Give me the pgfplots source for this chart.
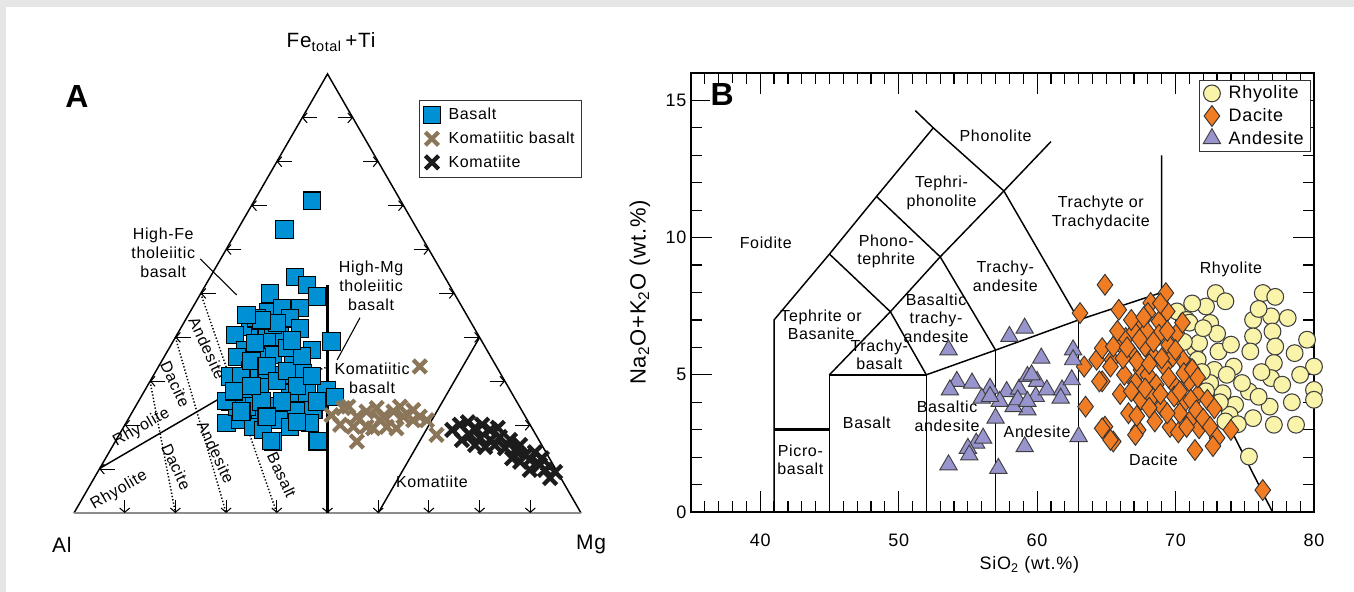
\documentclass[border=0pt]{standalone}
\usepackage{fontspec}
\setmainfont{Liberation Sans}[LetterSpace=4]
\usepackage{pgfplots}
\pgfplotsset{compat=1.18}
\usetikzlibrary{arrows.meta}
\definecolor{bg}{RGB}{230,230,230}
\definecolor{basaltblue}{RGB}{0,145,212}
\definecolor{kombas}{RGB}{140,118,90}
\definecolor{komat}{RGB}{28,28,28}
\definecolor{rhyo}{RGB}{250,244,170}
\definecolor{dac}{RGB}{240,125,35}
\definecolor{andes}{RGB}{152,148,205}
\newcommand{\lbl}{\fontsize{12}{14}\selectfont}
\newcommand{\tkf}{\fontsize{13.5}{15}\selectfont}
\begin{document}
\begin{tikzpicture}
\fill[bg] (0,0) rectangle (1015.5pt,444pt);
\fill[white] (4.5pt,0) rectangle (1015.5pt,438.75pt);
% ---------------- Panel A : ternary (Cartesian, side = 100) ----------------
\begin{axis}[at={(55.5pt,59.25pt)}, anchor=south west, x=3.8025pt, y=3.8025pt,
  xmin=0, xmax=100, ymin=0, ymax=86.6025, axis lines=none, clip=false,
  legend style={at={(axis description cs:0.68,0.941)}, anchor=north west,
    draw=black!80, line width=0.8pt, font=\lbl, row sep=3.5pt, inner xsep=3pt, inner ysep=4pt,
    /tikz/every odd column/.append style={column sep=4pt}},
  legend cell align=left]
% triangle
\addplot[forget plot, black, line width=1.1pt] coordinates {(0,0) (50,86.6025) (100,0)};
\addplot[forget plot, black!45, line width=2pt] coordinates {(0,0) (100,0)};
% ticks
\addplot[forget plot, black, line width=0.8pt, quiver={u=\thisrow{u},v=\thisrow{v}},
  -{Straight Barb[length=3.2pt,width=7.5pt]}] table {
x y u v
8 8.66 -3 0
13 17.32 -3 0
18 25.98 -3 0
23 34.64 -3 0
28 43.30 -3 0
33 51.96 -3 0
38 60.62 -3 0
43 69.28 -3 0
48 77.94 -3 0
92 8.66 3 0
87 17.32 3 0
82 25.98 3 0
77 34.64 3 0
72 43.30 3 0
67 51.96 3 0
62 60.62 3 0
57 69.28 3 0
52 77.94 3 0
10 2.5 0 -2.5
20 2.5 0 -2.5
30 2.5 0 -2.5
40 2.5 0 -2.5
50 2.5 0 -2.5
60 2.5 0 -2.5
70 2.5 0 -2.5
80 2.5 0 -2.5
90 2.5 0 -2.5
};
% field boundaries
\addplot[forget plot, black, line width=2.2pt] coordinates {(50,0) (50,45)};
\addplot[forget plot, black, line width=1.1pt] coordinates {(60,0) (80,34.64)};
\addplot[forget plot, black, line width=1.1pt] coordinates {(5.08,8.8) (28.6,22.5) (40,25.5)};
\addplot[forget plot, black, line width=1.1pt, dash pattern=on 1pt off 1.5pt] coordinates {(40,25.5) (50,28.8)};
\addplot[forget plot, black, line width=1.1pt, dash pattern=on 1pt off 1.5pt] coordinates {(25,43.30) (40,0)};
\addplot[forget plot, black, line width=1.1pt, dash pattern=on 1pt off 1.5pt] coordinates {(20,34.64) (30,0)};
\addplot[forget plot, black, line width=1.1pt, dash pattern=on 1pt off 1.5pt] coordinates {(15,25.98) (20,0)};
\addplot[forget plot, black, line width=0.8pt] coordinates {(24.9,50.1) (32.1,43.0)};
\addplot[forget plot, black, line width=0.8pt] coordinates {(56.4,38.5) (51.9,30.2)};
% labels
\node[font=\fontsize{15.5}{17}\selectfont] at (axis cs:50.7,92.9) {Fe\textsubscript{total}\,+Ti};
\node[font=\fontsize{15.75}{17}\selectfont] at (axis cs:-2.4,-6.3) {Al};
\node[font=\fontsize{15.75}{17}\selectfont] at (axis cs:102,-6.3) {Mg};
\node[font=\fontsize{24}{26}\selectfont\bfseries] at (axis cs:0.6,82.1) {A};
\node[font=\lbl, align=center] at (axis cs:17.6,51.3) {High-Fe\\tholeiitic\\basalt};
\node[font=\lbl, align=center] at (axis cs:58.6,44.8) {High-Mg\\tholeiitic\\basalt};
\node[font=\lbl, align=center] at (axis cs:58.8,26.6) {Komatiitic\\basalt};
\node[font=\lbl] at (axis cs:70.6,6.1) {Komatiite};
\node[font=\lbl, rotate=-65] at (axis cs:26.3,32.5) {Andesite};
\node[font=\lbl, rotate=-65] at (axis cs:20.0,25.4) {Dacite};
\node[font=\lbl, rotate=30] at (axis cs:13.3,16.8) {Rhyolite};
\node[font=\lbl, rotate=30] at (axis cs:8.9,4.5) {Rhyolite};
\node[font=\lbl, rotate=-65] at (axis cs:20.2,9.1) {Dacite};
\node[font=\lbl, rotate=-65] at (axis cs:28.0,12.0) {Andesite};
\node[font=\lbl, rotate=-65] at (axis cs:41.0,7.5) {Basalt};
% data
\addplot[only marks, mark=square*, mark size=6.5pt, mark options={fill=basaltblue, draw=black, line width=0.8pt}] coordinates {
(47.0,61.6) (41.5,55.9) (43.6,46.6) (45.9,45.0) (47.9,42.7) (38.7,43.3) (38.3,39.7) (41.0,40.4)
(44.6,40.4) (42.6,38.4) (34.7,36.7) (36.7,34.8) (40.6,34.8) (44.6,36.4) (46.9,32.1) (50.8,33.8)
(31.8,35.1) (33.7,32.1) (32.1,30.8) (39.3,31.2) (43.3,30.8) (34.7,28.2) (41.3,27.2) (38.0,27.6)
(30.8,26.9) (30.8,22.0) (34.1,23.6) (36.7,24.9) (39.3,21.0) (42.6,23.6) (45.9,23.6) (49.8,24.3)
(51.5,22.9) (36.7,19.7) (40.6,18.3) (43.9,20.0) (47.2,20.3) (30.1,17.7) (32.7,18.3) (35.4,17.0)
(42.6,17.0) (46.5,17.7) (39.3,14.1) (47.9,14.1) (34.1,21.0) (37.3,16.4) (32.1,21.0) (45.2,27.6)
(36.0,30.8) (42.0,32.5) (38.0,34.8) (36.0,38.4) (39.3,37.1) (35.7,33.5) (38.9,14.2) (48.1,14.2)
(30.1,22.1) (33.0,27.0) (35.0,30.0) (38.0,29.0) (40.0,26.0) (42.0,28.0) (44.0,25.0) (37.0,22.0)
(41.0,22.0) (44.0,18.0) (38.0,19.0) (35.0,25.0) (33.0,20.0) (31.5,24.0) (47.0,27.0) (48.0,22.0)
(45.0,31.0) (43.0,34.0) (40.0,37.5) (37.0,38.0) (34.0,39.0)};
\addlegendentry{Basalt}
\addplot[only marks, mark=x, mark size=7pt, mark options={draw=kombas, line width=3.2pt}] coordinates {
(68.2,28.9) (50.8,19.3) (54.1,21.0) (55.8,19.0) (57.7,20.0) (59.7,20.7) (60.4,18.3) (63.0,20.0)
(65.0,19.0) (66.9,18.3) (68.2,19.0) (55.8,14.1) (52.5,17.4) (57.7,17.0) (61.7,17.0) (64.3,21.0)
(71.5,15.4) (53.1,20.7) (59.0,16.7) (63.6,16.7) (66.9,20.3) (69.6,18.3) (55.1,17.0) (61.0,19.0)};
\addlegendentry{Komatiitic basalt}
\addplot[only marks, mark=x, mark size=7pt, mark options={draw=komat, line width=3.2pt}] coordinates {
(74.6,16.4) (76.1,17.4) (77.7,17.9) (79.1,16.8) (80.5,17.4) (82.1,16.4) (83.6,16.8) (78.1,15.4)
(80.1,14.8) (82.1,14.4) (84.0,15.0) (86.0,14.4) (85.0,12.8) (87.0,12.4) (88.0,13.4) (83.0,13.4)
(81.1,13.0) (89.0,11.4) (89.9,10.5) (90.9,12.0) (91.9,9.5) (92.9,8.5) (93.9,6.9) (89.9,8.5)
(88.0,10.1) (86.4,10.8) (76.5,14.4) (79.1,13.4) (92.3,10.8) (94.9,8.1)};
\addlegendentry{Komatiite}
\end{axis}
% ---------------- Panel B : TAS ----------------
\begin{axis}[at={(518.25pt,60pt)}, anchor=south west, scale only axis,
  width=467.25pt, height=329.25pt, xmin=35, xmax=80, ymin=0, ymax=16,
  xtick={40,50,...,80}, minor xtick={35,...,80}, ytick={0,5,10,15}, minor ytick={0,...,16},
  tick align=inside, major tick length=15.75pt, minor tick length=8.25pt,
  tick style={black, line width=0.9pt}, axis line style={line width=1.1pt},
  ticklabel style={font=\tkf}, /pgf/number format/assume math mode=true,
  xticklabel style={yshift=-13pt},
  xlabel={SiO\textsubscript{2} (wt.\%)}, ylabel={Na\textsubscript{2}O+K\textsubscript{2}O (wt.\%)},
  xlabel style={font=\tkf, at={(axis description cs:0.543,-0.121)}, anchor=center},
  ylabel style={font=\fontsize{16.5}{18}\selectfont, at={(axis description cs:-0.082,0.5)}, anchor=center},
  clip=false,
  legend style={at={(axis description cs:0.995,0.984)}, anchor=north east,
    draw=black!80, line width=0.8pt, font=\fontsize{13.5}{15}\selectfont, row sep=1.5pt, inner xsep=3pt, inner ysep=2pt,
    /tikz/every odd column/.append style={column sep=4pt}},
  legend cell align=left]
\addplot[forget plot, black, line width=1.1pt] coordinates {(41,0) (41,7) (45,9.4) (48.4,11.5) (52.5,14) (51.2,14.63)};
\addplot[forget plot, black, line width=2.2pt] coordinates {(41,3) (45,3)};
\addplot[forget plot, black, line width=1.1pt] coordinates {(45,0) (45,5) (52,5) (52,0)};
\addplot[forget plot, black, line width=1.1pt] coordinates {(45,5) (49.4,7.3) (53,9.3) (57.6,11.7) (61,13.5)};
\addplot[forget plot, black, line width=1.1pt] coordinates {(45,9.4) (49.4,7.3) (52,5)};
\addplot[forget plot, black, line width=1.1pt] coordinates {(48.4,11.5) (53,9.3) (57,5.9)};
\addplot[forget plot, black, line width=1.1pt] coordinates {(52.5,14) (57.6,11.7) (63,7)};
\addplot[forget plot, black, line width=1.1pt] coordinates {(52,5) (57,5.9) (63,7) (69,8)};
\addplot[forget plot, black, line width=1.1pt] coordinates {(57,0) (57,5.9)};
\addplot[forget plot, black, line width=1.1pt] coordinates {(63,0) (63,7)};
\addplot[forget plot, black, line width=1.1pt] coordinates {(69,13) (69,8) (77,0)};
% field names
\node[font=\lbl] at (axis cs:57.0,13.7) {Phonolite};
\node[font=\lbl, align=center] at (axis cs:53.1,11.63) {Tephri-\\phonolite};
\node[font=\lbl, align=center] at (axis cs:49.1,9.5) {Phono-\\tephrite};
\node[font=\lbl] at (axis cs:40.4,9.8) {Foidite};
\node[font=\lbl, align=center] at (axis cs:64.6,10.9) {Trachyte or\\Trachydacite};
\node[font=\lbl, align=center] at (axis cs:57.7,8.59) {Trachy-\\andesite};
\node[font=\lbl, align=center] at (axis cs:52.7,7.07) {Basaltic\\trachy-\\andesite};
\node[font=\lbl, align=center] at (axis cs:44.4,6.82) {Tephrite or\\Basanite};
\node[font=\lbl, align=center] at (axis cs:48.6,5.73) {Trachy-\\basalt};
\node[font=\lbl] at (axis cs:47.7,3.24) {Basalt};
\node[font=\lbl, align=center] at (axis cs:42.9,1.9) {Picro-\\basalt};
\node[font=\lbl, align=center] at (axis cs:53.5,3.48) {Basaltic\\andesite};
\node[font=\lbl] at (axis cs:60.0,2.93) {Andesite};
\node[font=\lbl] at (axis cs:68.4,1.9) {Dacite};
\node[font=\lbl] at (axis cs:74.0,8.83) {Rhyolite};
\node[font=\fontsize{24}{26}\selectfont\bfseries, fill=white, inner sep=0.5pt] at (axis description cs:0.05,0.95) {B};
% data
\addplot[only marks, mark=*, mark size=6.3pt, mark options={fill=rhyo, draw=black!75, line width=0.8pt}] coordinates {
(72.9,7.98) (76.3,7.98) (77.2,7.84) (70.1,7.31) (70.8,7.0) (72.2,7.49) (73.6,7.68) (72.5,6.89)
(75.6,7.0) (76.9,7.13) (78.1,7.07) (75.6,6.40) (77.0,6.58) (79.5,6.28) (71.4,5.97) (73.1,5.85)
(75.4,5.85) (77.2,6.03) (78.6,5.79) (80.0,5.30) (74.2,5.30) (77.1,5.43) (76.9,4.88) (77.7,4.64)
(80.0,4.45) (80.0,4.09) (73.4,4.33) (75.3,4.39) (74.3,3.91) (75.6,3.42) (76.8,3.84) (77.1,3.18)
(78.7,3.18) (73.9,3.54) (75.3,2.02) (71.7,6.16) (71.6,5.55) (72.8,5.18) (74.8,4.70) (72.5,4.70)
(73.0,6.5) (74.0,6.1) (76.2,5.1) (73.7,5.0) (71.9,5.1) (70.6,6.2) (71.0,6.9) (71.2,7.6)
(72.0,6.7) (70.9,5.3) (72.2,4.4) (73.2,4.0) (73.6,3.3) (74.5,3.2) (76.0,4.2) (78.4,4.0)
(79.0,5.0) (76.0,7.4)};
\addlegendentry{Rhyolite}
\addplot[only marks, mark=diamond*, mark size=7.8pt, mark options={fill=dac, draw=black!80, line width=0.7pt}] coordinates {
(64.9,8.28) (69.3,7.98) (68.2,7.62) (65.9,7.37) (67.5,6.89) (68.8,6.95) (69.4,7.31) (66.0,6.16)
(67.8,6.03) (68.8,6.46) (66.9,5.73) (69.5,6.09) (70.1,6.52) (68.4,5.67) (65.4,5.55) (67.5,5.18)
(69.2,5.30) (70.5,5.55) (67.1,4.70) (68.6,4.64) (70.0,4.57) (71.0,4.76) (64.7,4.76) (67.5,4.09)
(69.0,3.84) (70.6,3.97) (71.6,4.27) (72.3,4.09) (72.8,3.78) (64.9,3.11) (65.5,2.57) (67.3,2.99)
(67.1,2.81) (70.3,3.60) (71.1,3.36) (71.7,3.05) (74.0,2.99) (71.4,2.26) (76.3,0.80) (66.4,6.34)
(67.0,6.58) (68.0,7.25) (69.8,5.67) (70.6,5.06) (71.1,4.09) (69.9,4.21) (63.1,7.25) (63.5,3.84)
(64.7,3.05) (65.3,2.63) (63.4,5.30) (64.3,5.55) (64.7,5.97) (64.5,4.76) (65.3,5.30) (65.5,6.03)
(66.3,5.0) (66.0,4.3) (68.0,5.0) (68.3,4.2) (69.5,4.9) (66.6,3.6) (68.5,3.3) (69.6,3.1)
(70.2,2.9) (66.8,7.0) (65.8,6.6) (67.9,6.6) (66.2,5.6) (67.2,5.5) (68.1,5.4) (69.0,5.6)
(70.0,5.9) (66.8,4.4) (67.8,4.5) (68.9,4.3) (70.3,4.4) (67.2,3.5) (68.1,3.8) (69.4,3.6)
(70.8,3.1) (71.5,3.7) (72.0,3.4) (66.5,6.0) (67.4,6.3) (68.4,6.2) (69.4,6.6) (68.9,7.6)
(67.7,7.1) (70.5,6.9) (71.2,5.2) (71.6,4.9) (72.5,3.1) (73.0,2.7) (72.7,2.4)};
\addlegendentry{Dacite}
\addplot[only marks, mark=triangle*, mark size=7.5pt, mark options={fill=andes, draw=black!75, line width=0.7pt}] coordinates {
(53.6,5.91) (58.0,6.40) (59.1,6.70) (54.2,4.76) (53.7,4.45) (55.3,4.70) (56.6,4.51) (56.0,4.15)
(57.8,4.39) (58.7,4.48) (59.3,4.94) (60.0,4.76) (60.3,5.61) (59.9,4.21) (59.3,3.72) (58.3,3.84)
(57.0,3.42) (60.7,4.45) (61.8,4.45) (61.7,4.15) (62.5,4.82) (62.6,5.91) (62.6,5.55) (63.0,2.75)
(59.1,2.38) (55.6,2.51) (55.0,2.32) (56.1,2.69) (55.1,2.08) (53.6,1.72) (57.2,1.59) (59.6,5.0)
(58.6,4.09) (57.3,4.03) (59.3,4.03) (56.6,4.21)};
\addlegendentry{Andesite}
\end{axis}
\pgfresetboundingbox
\useasboundingbox (0,0) rectangle (1015.5pt,444pt);
\end{tikzpicture}
\end{document}
